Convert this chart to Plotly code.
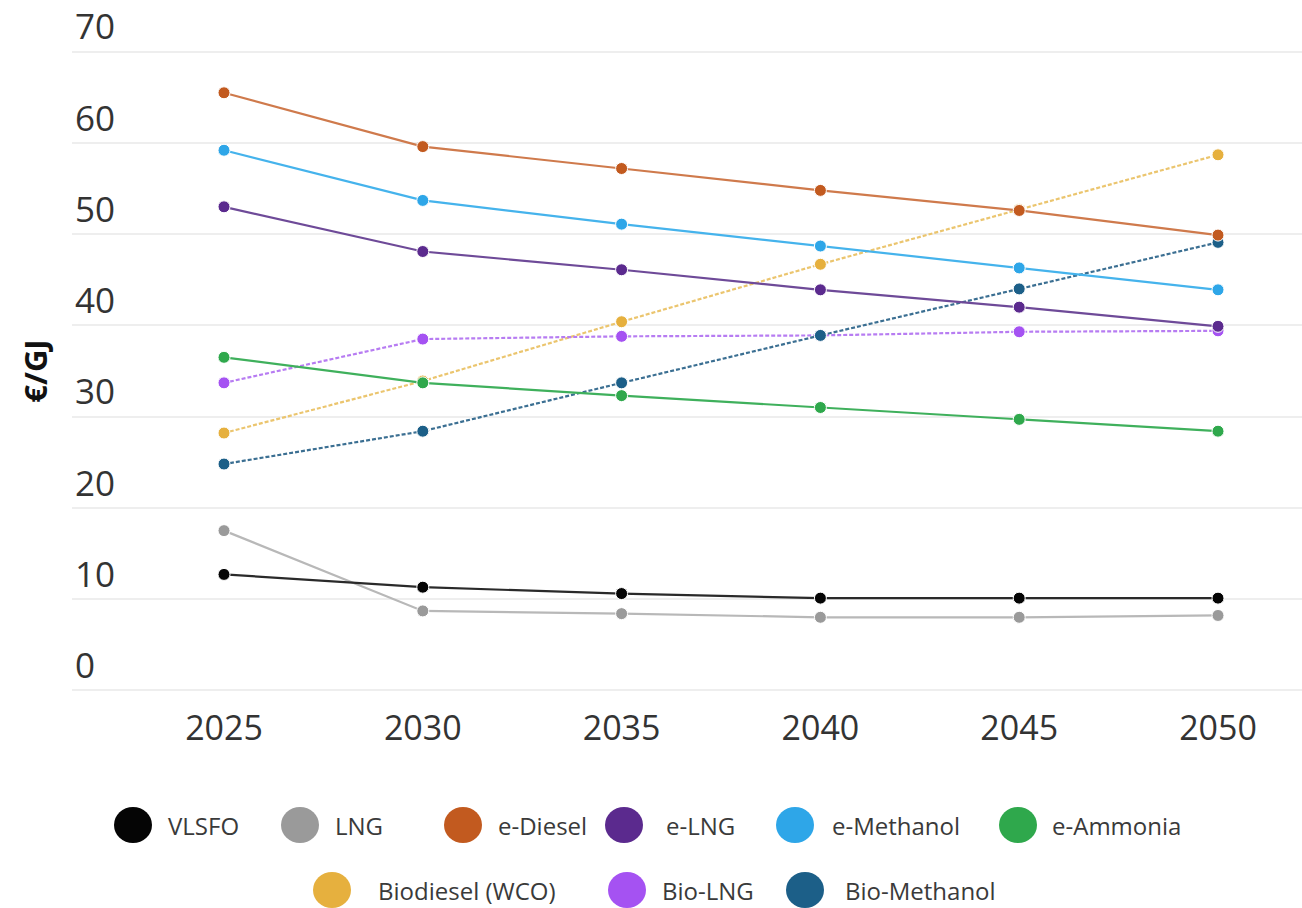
import plotly.graph_objects as go

years = [2025, 2030, 2035, 2040, 2045, 2050]

vlsfo = [12.7, 11.3, 10.6, 10.1, 10.1, 10.1]
lng = [17.5, 8.7, 8.4, 8.0, 8.0, 8.2]
e_diesel = [65.5, 59.6, 57.2, 54.8, 52.6, 49.9]
e_lng = [53.0, 48.1, 46.1, 43.9, 42.0, 39.9]
e_methanol = [59.2, 53.7, 51.1, 48.7, 46.3, 43.9]
e_ammonia = [36.5, 33.7, 32.3, 31.0, 29.7, 28.4]
biodiesel_wco = [28.2, 33.9, 40.4, 46.7, 52.7, 58.7]
bio_lng = [33.7, 38.5, 38.8, 38.9, 39.3, 39.4]
bio_methanol = [24.8, 28.4, 33.7, 38.9, 44.0, 49.1]

y_ticks = [0, 10, 20, 30, 40, 50, 60, 70]

series_names = ["VLSFO", "LNG", "e-Diesel", "e-LNG", "e-Methanol", "e-Ammonia",
                "Biodiesel (WCO)", "Bio-LNG", "Bio-Methanol"]
series_values = [vlsfo, lng, e_diesel, e_lng, e_methanol, e_ammonia,
                 biodiesel_wco, bio_lng, bio_methanol]

colors = ["#050505", "#9a9a9a", "#c25a1f", "#5b2a8e", "#2ea6e8", "#2fa84c",
          "#e6b03e", "#a552f2", "#1c5f88"]
line_colors = ["#2a2a2a", "#b8b8b8", "#cf7a4c", "#6e4a98", "#45b3ec", "#3fb05c",
               "#ebc56e", "#b77cf2", "#3b6f92"]
dashes = ["solid", "solid", "solid", "solid", "solid", "solid",
          "4px,2px", "4px,2px", "4px,2px"]

W, H = 1302, 908
L, R, T, B = 72, 0, 49, 215
PW, PH = W - L - R, H - T - B

fig = go.Figure()
order = [6, 7, 8, 5, 1, 0, 3, 4, 2]
for i in order:
    fig.add_trace(go.Scatter(
        x=years, y=series_values[i], name=series_names[i],
        mode="lines+markers",
        line=dict(color=line_colors[i], width=2.2, dash=dashes[i]),
        marker=dict(color=colors[i], size=12, line=dict(color="white", width=1)),
        showlegend=False,
    ))

def px_x(px):
    return (px - L) / PW

def px_y(py):
    return (H - B - py) / PH

# custom legend (large circles)
legend_pos = [
    (133, 825, 166), (300, 825, 333), (463, 825, 496), (624, 825, 664),
    (795, 825, 830), (1018, 825, 1050),
    (332, 890, 376), (627, 890, 660), (805, 890, 843),
]
shapes = []
annotations = []
for i, (cx, cy, tx) in enumerate(legend_pos):
    shapes.append(dict(
        type="circle", xref="paper", yref="paper",
        xsizemode="pixel", ysizemode="pixel",
        xanchor=px_x(cx), yanchor=px_y(cy),
        x0=-19, x1=19, y0=-18, y1=18,
        fillcolor=colors[i], line=dict(width=0),
    ))
    annotations.append(dict(
        xref="paper", yref="paper", x=px_x(tx), y=px_y(cy),
        xanchor="left", yanchor="middle", showarrow=False,
        text=series_names[i],
        font=dict(family="Open Sans", size=24, color="#3a3a3a"),
    ))

x0 = 2025 - (224 - L) / (1218 - 224) * 25
x1 = 2050 + (W - R - 1218) / (1218 - 224) * 25

fig.update_layout(
    width=W, height=H,
    margin=dict(l=L, r=R, t=T, b=B),
    paper_bgcolor="white", plot_bgcolor="white",
    font=dict(family="Open Sans", color="#333333"),
    shapes=shapes, annotations=annotations,
    xaxis=dict(
        range=[x0, x1], tickvals=years, ticktext=[str(y) for y in years],
        showgrid=False, zeroline=False, showline=False, ticks="",
        tickfont=dict(size=34, color="#333333"), ticklabelstandoff=12,
    ),
    yaxis=dict(
        range=[-0.3, 70.3], tickvals=y_ticks, ticktext=[str(v) for v in y_ticks],
        showgrid=True, gridcolor="#eeeeee", gridwidth=1.5,
        zeroline=False, showline=False, ticks="",
        ticklabelposition="inside top", ticklabeloverflow="allow",
        tickfont=dict(size=35, color="#333333"),
        title=dict(text="<b>€/GJ</b>", font=dict(size=31, color="#111111"), standoff=18),
    ),
)

fig.write_html("out.html")
